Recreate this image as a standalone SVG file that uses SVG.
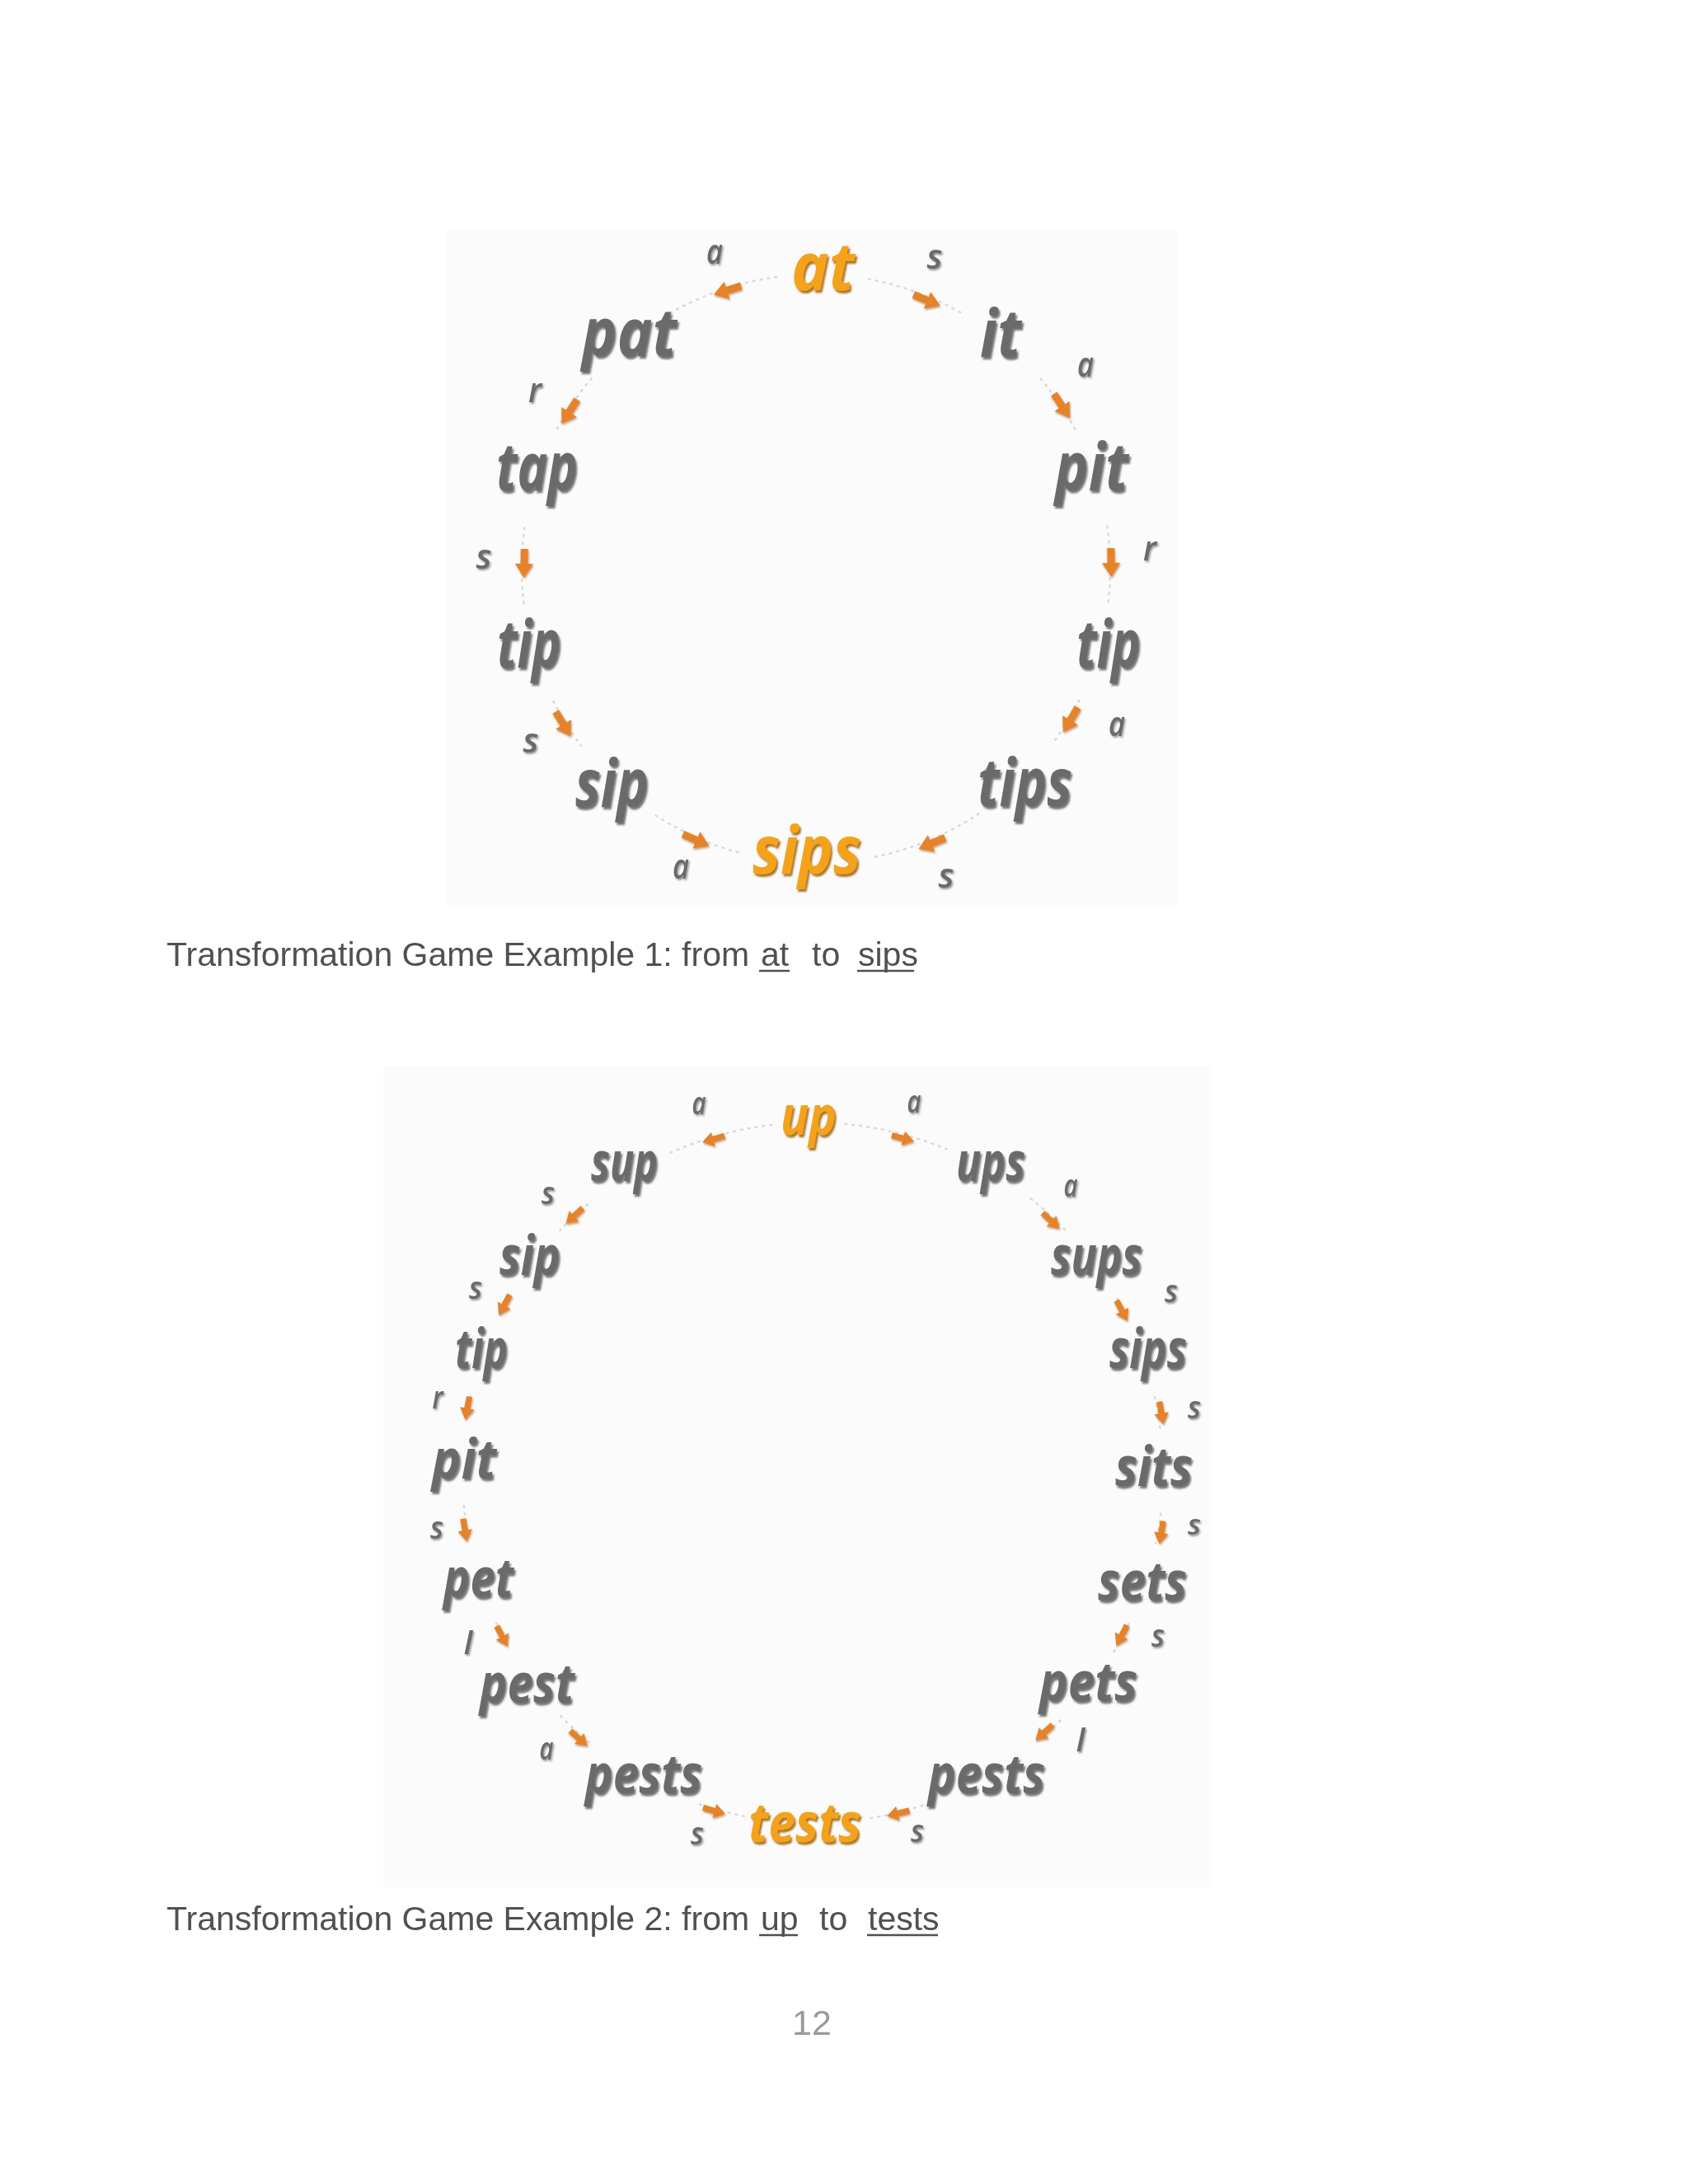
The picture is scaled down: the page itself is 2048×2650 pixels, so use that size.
<svg xmlns="http://www.w3.org/2000/svg" xmlns:xlink="http://www.w3.org/1999/xlink" width="2048" height="2650" viewBox="0 0 2048 2650">
<style>
.w{font-family:"Open Sans","Noto Sans",sans-serif;font-style:italic;font-weight:700;fill:#6a6a6a;filter:url(#sh)}
.o{font-family:"Open Sans","Noto Sans",sans-serif;font-style:italic;font-weight:700;fill:#f4a21c;filter:url(#sho)}
.e1{font-size:80px}
.e2{font-size:66px}
.l{font-family:"Open Sans","Noto Sans",sans-serif;font-style:italic;font-weight:600;fill:#6a6a6a;text-anchor:middle;filter:url(#shl)}
.l1{font-size:42px}
.l2{font-size:38px}
.arc{fill:none;stroke:#d9d9d9;stroke-width:2.5;stroke-dasharray:2 7;stroke-linecap:round}
.ar{fill:#e5822a;filter:url(#sha)}
.cap{font-family:"Liberation Sans",Arial,sans-serif;font-size:41px;fill:#505050}
.ul{stroke:#505050;stroke-width:2.5}
</style>
<defs>
<filter id="sh" x="-20%" y="-20%" width="150%" height="150%"><feDropShadow dx="2" dy="3" stdDeviation="1.3" flood-color="#2a2a2a" flood-opacity="0.65"/></filter>
<filter id="sho" x="-20%" y="-20%" width="150%" height="150%"><feDropShadow dx="2" dy="3" stdDeviation="1" flood-color="#9a5a00" flood-opacity="0.85"/></filter>
<filter id="shl" x="-30%" y="-30%" width="180%" height="180%"><feDropShadow dx="1.5" dy="2" stdDeviation="1" flood-color="#333" flood-opacity="0.5"/></filter>
<filter id="sha" x="-30%" y="-30%" width="180%" height="180%"><feDropShadow dx="1" dy="2" stdDeviation="1" flood-color="#8a4a10" flood-opacity="0.5"/></filter>
<path id="arr" d="M-17,-4.5 L1,-4.5 L1,-11 L18,0 L1,11 L1,4.5 L-17,4.5 Z"/>
</defs>
<rect width="2048" height="2650" fill="#ffffff"/>
<rect x="541" y="279" width="887" height="819" fill="#fbfbfb"/>
<rect x="465" y="1293" width="1005" height="997" fill="#fbfbfb"/>

<g id="connectors">
 <g id="ex1-arcs">
  <path class="arc" d="M942.2,336.2 A357,357 0 0 0 813.1,379.9"/>
  <path class="arc" d="M717.7,459.1 A357,357 0 0 0 674.8,522.4"/>
  <path class="arc" d="M636.5,640.3 A357,357 0 0 0 635.5,732.3"/>
  <path class="arc" d="M671.3,851.0 A357,357 0 0 0 704.9,904.8"/>
  <path class="arc" d="M795.6,989.4 A357,357 0 0 0 900.6,1035.6"/>
  <path class="arc" d="M1053.8,338.7 A357,357 0 0 1 1167.4,380.2"/>
  <path class="arc" d="M1262.7,459.6 A357,357 0 0 1 1304.3,520.7"/>
  <path class="arc" d="M1343.3,638.4 A357,357 0 0 1 1344.6,731.0"/>
  <path class="arc" d="M1309.2,849.9 A357,357 0 0 1 1277.3,901.8"/>
  <path class="arc" d="M1187.6,987.3 A357,357 0 0 1 1061.2,1039.8"/>
 </g>
 <g id="ex1-arrows" class="ar">
  <use xlink:href="#arr" transform="translate(883,352) rotate(162.4)"/>
  <use xlink:href="#arr" transform="translate(1124,364) rotate(22.4)"/>
  <use xlink:href="#arr" transform="translate(1288,492) rotate(56.4)"/>
  <use xlink:href="#arr" transform="translate(691,499) rotate(122.6)"/>
  <use xlink:href="#arr" transform="translate(636,683) rotate(91)"/>
  <use xlink:href="#arr" transform="translate(1348,682) rotate(88.7)"/>
  <use xlink:href="#arr" transform="translate(683,878) rotate(58.5)"/>
  <use xlink:href="#arr" transform="translate(1299,873) rotate(120.6)"/>
  <use xlink:href="#arr" transform="translate(844,1019) rotate(23.9)"/>
  <use xlink:href="#arr" transform="translate(1131,1023) rotate(157)"/>
 </g>
 <g id="ex2-arcs">
  <path class="arc" d="M936.4,1364.9 A425,425 0 0 0 813.2,1398.8"/>
  <path class="arc" d="M712.8,1461.4 A425,425 0 0 0 679.3,1492.9"/>
  <path class="arc" d="M617.2,1575.8 A425,425 0 0 0 606.3,1596.0"/>
  <path class="arc" d="M571.4,1693.6 A425,425 0 0 0 565.8,1723.5"/>
  <path class="arc" d="M562.9,1827.0 A425,425 0 0 0 569.4,1871.0"/>
  <path class="arc" d="M602.1,1969.3 A425,425 0 0 0 618.0,1999.5"/>
  <path class="arc" d="M680.3,2082.2 A425,425 0 0 0 719.7,2118.2"/>
  <path class="arc" d="M849.0,2189.3 A425,425 0 0 0 902.7,2203.8"/>
  <path class="arc" d="M1025.3,1363.8 A425,425 0 0 1 1148.6,1394.3"/>
  <path class="arc" d="M1250.6,1454.4 A425,425 0 0 1 1292.8,1492.9"/>
  <path class="arc" d="M1354.8,1575.8 A425,425 0 0 1 1366.3,1597.4"/>
  <path class="arc" d="M1400.9,1695.0 A425,425 0 0 1 1407.6,1733.0"/>
  <path class="arc" d="M1408.1,1836.6 A425,425 0 0 1 1402.3,1872.5"/>
  <path class="arc" d="M1369.3,1970.6 A425,425 0 0 1 1350.3,2005.9"/>
  <path class="arc" d="M1286.5,2087.5 A425,425 0 0 1 1256.3,2114.9"/>
  <path class="arc" d="M1127.9,2187.6 A425,425 0 0 1 1050.3,2207.1"/>
 </g>
 <g id="ex2-arrows" class="ar">
  <use xlink:href="#arr" transform="translate(866,1382) rotate(163.5) scale(0.8)"/>
  <use xlink:href="#arr" transform="translate(1095,1381) rotate(15) scale(0.8)"/>
  <use xlink:href="#arr" transform="translate(697,1475) rotate(137.2) scale(0.8)"/>
  <use xlink:href="#arr" transform="translate(1275,1481) rotate(43.4) scale(0.8)"/>
  <use xlink:href="#arr" transform="translate(612,1583) rotate(118.6) scale(0.8)"/>
  <use xlink:href="#arr" transform="translate(1361,1590) rotate(62.3) scale(0.8)"/>
  <use xlink:href="#arr" transform="translate(567,1708) rotate(100.7) scale(0.8)"/>
  <use xlink:href="#arr" transform="translate(1409,1714) rotate(80.2) scale(0.8)"/>
  <use xlink:href="#arr" transform="translate(564,1856) rotate(80.7) scale(0.8)"/>
  <use xlink:href="#arr" transform="translate(1409,1859) rotate(99.7) scale(0.8)"/>
  <use xlink:href="#arr" transform="translate(609,1985) rotate(62.3) scale(0.8)"/>
  <use xlink:href="#arr" transform="translate(1361,1984) rotate(117.7) scale(0.8)"/>
  <use xlink:href="#arr" transform="translate(702,2109) rotate(41.4) scale(0.8)"/>
  <use xlink:href="#arr" transform="translate(1267,2102) rotate(138.3) scale(0.8)"/>
  <use xlink:href="#arr" transform="translate(866,2197) rotate(16.3) scale(0.8)"/>
  <use xlink:href="#arr" transform="translate(1090,2200) rotate(165.9) scale(0.8)"/>
 </g>
 <g id="ex1-labels">
  <text class="l l1" x="867" y="320" textLength="20" lengthAdjust="spacingAndGlyphs">a</text>
  <text class="l l1" x="1134" y="326" textLength="19" lengthAdjust="spacingAndGlyphs">s</text>
  <text class="l l1" x="1317" y="457" textLength="20" lengthAdjust="spacingAndGlyphs">a</text>
  <text class="l l1" x="649" y="488" textLength="16" lengthAdjust="spacingAndGlyphs">r</text>
  <text class="l l1" x="587" y="690" textLength="19" lengthAdjust="spacingAndGlyphs">s</text>
  <text class="l l1" x="1395" y="680" textLength="16" lengthAdjust="spacingAndGlyphs">r</text>
  <text class="l l1" x="644" y="913" textLength="19" lengthAdjust="spacingAndGlyphs">s</text>
  <text class="l l1" x="1355" y="893" textLength="20" lengthAdjust="spacingAndGlyphs">a</text>
  <text class="l l1" x="826" y="1066" textLength="20" lengthAdjust="spacingAndGlyphs">a</text>
  <text class="l l1" x="1148" y="1077" textLength="19" lengthAdjust="spacingAndGlyphs">s</text>
 </g>
 <g id="ex2-labels">
  <text class="l l2" x="848" y="1352" textLength="17" lengthAdjust="spacingAndGlyphs">a</text>
  <text class="l l2" x="1109" y="1350" textLength="17" lengthAdjust="spacingAndGlyphs">a</text>
  <text class="l l2" x="1299" y="1452" textLength="17" lengthAdjust="spacingAndGlyphs">a</text>
  <text class="l l2" x="665" y="1461" textLength="16" lengthAdjust="spacingAndGlyphs">s</text>
  <text class="l l2" x="577" y="1576" textLength="16" lengthAdjust="spacingAndGlyphs">s</text>
  <text class="l l2" x="1421" y="1580" textLength="16" lengthAdjust="spacingAndGlyphs">s</text>
  <text class="l l2" x="531" y="1709" textLength="13" lengthAdjust="spacingAndGlyphs">r</text>
  <text class="l l2" x="1449" y="1721" textLength="16" lengthAdjust="spacingAndGlyphs">s</text>
  <text class="l l2" x="530" y="1867" textLength="16" lengthAdjust="spacingAndGlyphs">s</text>
  <text class="l" x="1449" y="1862" font-size="34" textLength="16" lengthAdjust="spacingAndGlyphs">s</text>
  <text class="l l2" x="568" y="2007">l</text>
  <text class="l l2" x="1405" y="1998" textLength="16" lengthAdjust="spacingAndGlyphs">s</text>
  <text class="l l2" x="663" y="2135" textLength="17" lengthAdjust="spacingAndGlyphs">a</text>
  <text class="l l2" x="1311" y="2125">l</text>
  <text class="l l2" x="846" y="2238" textLength="16" lengthAdjust="spacingAndGlyphs">s</text>
  <text class="l l2" x="1113" y="2235" textLength="16" lengthAdjust="spacingAndGlyphs">s</text>
 </g>
</g>

<g id="example1">
 <g id="n1-at"><text class="o e1" x="960" y="352" textLength="77" lengthAdjust="spacingAndGlyphs">at</text></g>
 <g id="n1-pat"><text class="w e1" x="706" y="432" textLength="115" lengthAdjust="spacingAndGlyphs">pat</text></g>
 <g id="n1-it"><text class="w e1" x="1189" y="433" textLength="50" lengthAdjust="spacingAndGlyphs">it</text></g>
 <g id="n1-tap"><text class="w e1" x="602" y="595" textLength="99" lengthAdjust="spacingAndGlyphs">tap</text></g>
 <g id="n1-pit"><text class="w e1" x="1280" y="595" textLength="89" lengthAdjust="spacingAndGlyphs">pit</text></g>
 <g id="n1-tip-l"><text class="w e1" x="603" y="810" textLength="78" lengthAdjust="spacingAndGlyphs">tip</text></g>
 <g id="n1-tip-r"><text class="w e1" x="1306" y="810" textLength="78" lengthAdjust="spacingAndGlyphs">tip</text></g>
 <g id="n1-sip"><text class="w e1" x="698" y="979" textLength="89" lengthAdjust="spacingAndGlyphs">sip</text></g>
 <g id="n1-tips"><text class="w e1" x="1186" y="978" textLength="115" lengthAdjust="spacingAndGlyphs">tips</text></g>
 <g id="n1-sips"><text class="o e1" x="913" y="1060" textLength="132" lengthAdjust="spacingAndGlyphs">sips</text></g>
</g>

<g id="example2">
 <g id="n2-up"><text class="o e2" x="947" y="1377" textLength="68" lengthAdjust="spacingAndGlyphs">up</text></g>
 <g id="n2-sup"><text class="w e2" x="717" y="1433" textLength="81" lengthAdjust="spacingAndGlyphs">sup</text></g>
 <g id="n2-ups"><text class="w e2" x="1160" y="1433" textLength="84" lengthAdjust="spacingAndGlyphs">ups</text></g>
 <g id="n2-sip"><text class="w e2" x="606" y="1547" textLength="74" lengthAdjust="spacingAndGlyphs">sip</text></g>
 <g id="n2-sups"><text class="w e2" x="1275" y="1547" textLength="111" lengthAdjust="spacingAndGlyphs">sups</text></g>
 <g id="n2-tip"><text class="w e2" x="552" y="1660" textLength="64" lengthAdjust="spacingAndGlyphs">tip</text></g>
 <g id="n2-sips"><text class="w e2" x="1346" y="1660" textLength="94" lengthAdjust="spacingAndGlyphs">sips</text></g>
 <g id="n2-pit"><text class="w e2" x="524" y="1794" textLength="78" lengthAdjust="spacingAndGlyphs">pit</text></g>
 <g id="n2-sits"><text class="w e2" x="1353" y="1803" textLength="94" lengthAdjust="spacingAndGlyphs">sits</text></g>
 <g id="n2-pet"><text class="w e2" x="538" y="1938" textLength="85" lengthAdjust="spacingAndGlyphs">pet</text></g>
 <g id="n2-sets"><text class="w e2" x="1332" y="1942" textLength="108" lengthAdjust="spacingAndGlyphs">sets</text></g>
 <g id="n2-pest"><text class="w e2" x="582" y="2066" textLength="115" lengthAdjust="spacingAndGlyphs">pest</text></g>
 <g id="n2-pets"><text class="w e2" x="1261" y="2064" textLength="119" lengthAdjust="spacingAndGlyphs">pets</text></g>
 <g id="n2-pests-l"><text class="w e2" x="710" y="2176" textLength="142" lengthAdjust="spacingAndGlyphs">pests</text></g>
 <g id="n2-pests-r"><text class="w e2" x="1126" y="2176" textLength="142" lengthAdjust="spacingAndGlyphs">pests</text></g>
 <g id="n2-tests"><text class="o e2" x="908" y="2235" textLength="137" lengthAdjust="spacingAndGlyphs">tests</text></g>
</g>

<g id="caption1">
 <text class="cap" x="202" y="1172">Transformation Game Example 1: from</text>
 <text class="cap" x="923" y="1172">at</text>
 <line class="ul" x1="921" y1="1178" x2="958" y2="1178"/>
 <text class="cap" x="985" y="1172">to</text>
 <text class="cap" x="1041" y="1172">sips</text>
 <line class="ul" x1="1040" y1="1178" x2="1109" y2="1178"/>
</g>
<g id="caption2">
 <text class="cap" x="202" y="2342">Transformation Game Example 2: from</text>
 <text class="cap" x="923" y="2342">up</text>
 <line class="ul" x1="921" y1="2348" x2="968" y2="2348"/>
 <text class="cap" x="994" y="2342">to</text>
 <text class="cap" x="1053" y="2342">tests</text>
 <line class="ul" x1="1052" y1="2348" x2="1138" y2="2348"/>
</g>
<text id="page-number" x="985" y="2469" text-anchor="middle" font-family="Liberation Sans, Arial, sans-serif" font-size="43" fill="#9a9a9a">12</text>
</svg>
